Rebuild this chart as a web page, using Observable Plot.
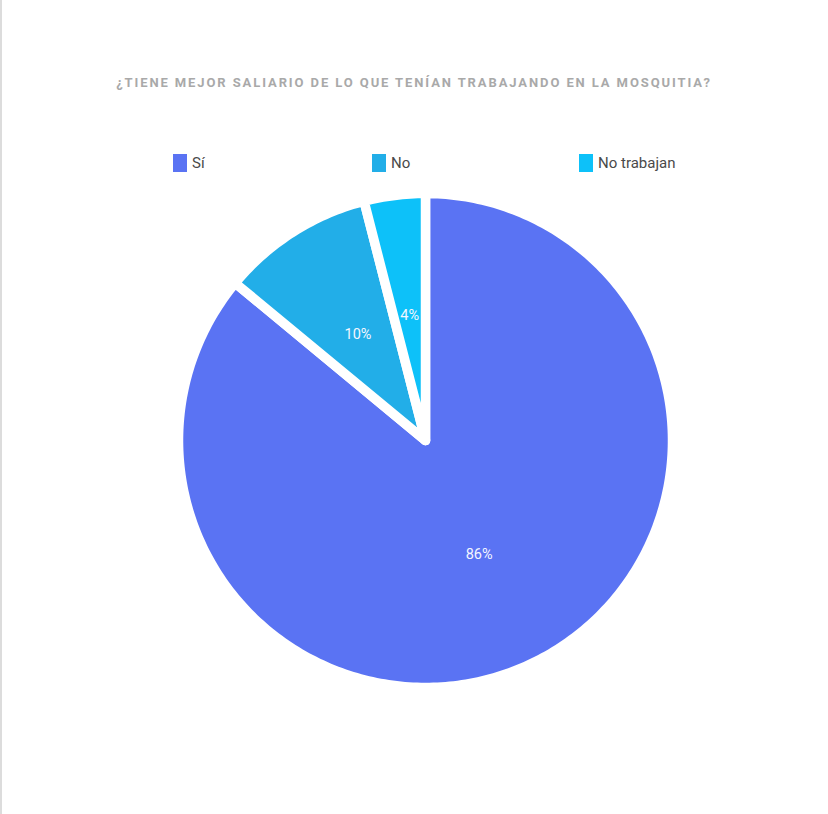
<!DOCTYPE html>
<html>
<head>
<meta charset="utf-8">
<script src="https://cdn.jsdelivr.net/npm/d3@7"></script>
<script src="https://cdn.jsdelivr.net/npm/@observablehq/plot@0.6"></script>
<style>
  html, body { margin: 0; padding: 0; background: #fff; }
  body { width: 828px; height: 814px; position: relative; overflow: hidden; font-family: Roboto, "Noto Sans", sans-serif; }
  #border { position: absolute; left: 0; top: 0; width: 2px; height: 814px; background: #dcdcdc; }
  #title { position: absolute; left: 0; width: 828px; top: 75px; text-align: center; font-size: 13px; font-weight: bold; letter-spacing: 1.9px; color: #a9a9a9; }
  .leg { position: absolute; top: 154px; display: flex; align-items: center; font-size: 15px; color: #4a4a4a; }
  .sw { width: 14px; height: 18px; margin-right: 5px; }
  #chart { position: absolute; left: 0; top: 190px; }
</style>
</head>
<body>
<div id="border"></div>
<div id="title"></div>
<div id="legend"></div>
<div id="chart"></div>
<script>
const categories = ["Sí", "No", "No trabajan"];
const values = [86, 10, 4];
const colors = ["#5a73f3", "#22aee8", "#0dc1f9"];
const titleText = "¿TIENE MEJOR SALIARIO DE LO QUE TENÍAN TRABAJANDO EN LA MOSQUITIA?";

document.getElementById("title").textContent = titleText;
const legendX = [173, 372, 579];
const legend = document.getElementById("legend");
categories.forEach((c, i) => {
  const d = document.createElement("div");
  d.className = "leg";
  d.style.left = legendX[i] + "px";
  d.innerHTML = `<span class="sw" style="background:${colors[i]}"></span><span>${c}</span>`;
  legend.appendChild(d);
});

const R = 247;
const total = d3.sum(values);
const pie = d3.pie().sort(null).value(d => d.value)(categories.map((c, i) => ({category: c, value: values[i]})));
const pts = [];
for (const a of pie) {
  const c = a.data.category;
  pts.push({category: c, x: 0, y: 0});
  const n = Math.max(8, Math.ceil((a.endAngle - a.startAngle) * 60));
  for (let k = 0; k <= n; k++) {
    const t = a.startAngle + (a.endAngle - a.startAngle) * k / n;
    pts.push({category: c, x: R * Math.sin(t), y: R * Math.cos(t)});
  }
  pts.push({category: c, x: 0, y: 0});
}
const labels = pie.map(a => {
  const m = (a.startAngle + a.endAngle) / 2;
  const rr = R * 0.51;
  return {label: Math.round(a.data.value / total * 100) + "%", x: rr * Math.sin(m), y: rr * Math.cos(m)};
});

const plot = Plot.plot({
  width: 828,
  height: 624,
  margin: 0,
  x: {domain: [-425, 403], axis: null},
  y: {domain: [-374, 250], axis: null},
  color: {domain: categories, range: colors},
  style: {background: "transparent", fontFamily: "Roboto, sans-serif"},
  marks: [
    Plot.line(pts, {x: "x", y: "y", z: "category", fill: "category", stroke: "white", strokeWidth: 9.5, strokeLinejoin: "round", curve: "linear"}),
    Plot.text(labels, {x: "x", y: "y", text: "label", fill: "#f4f6ff", fontSize: 14.5})
  ]
});
document.getElementById("chart").appendChild(plot);
</script>
</body>
</html>
